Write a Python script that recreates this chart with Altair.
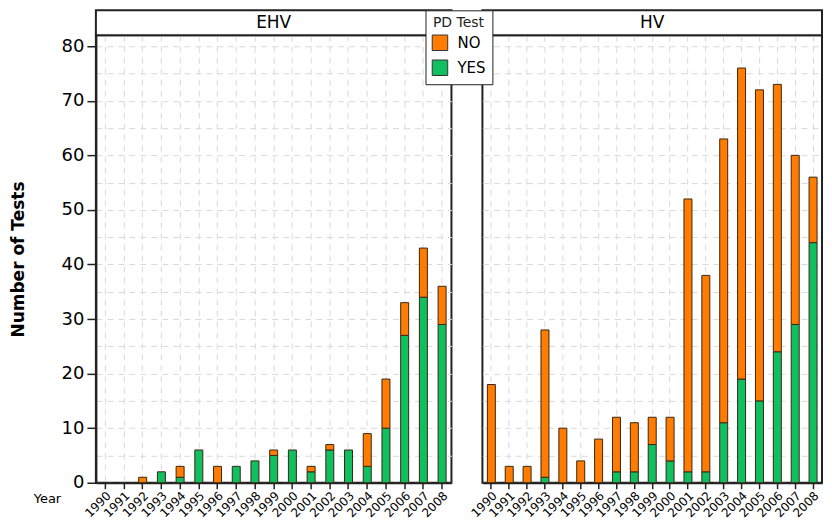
import altair as alt
import pandas as pd

years = [str(y) for y in range(1990, 2009)]

ehv_yes = [0, 0, 0, 2, 1, 6, 0, 3, 4, 5, 6, 2, 6, 6, 3, 10, 27, 34, 29]
ehv_no = [0, 0, 1, 0, 2, 0, 3, 0, 0, 1, 0, 1, 1, 0, 6, 9, 6, 9, 7]

hv_yes = [0, 0, 0, 1, 0, 0, 0, 2, 2, 7, 4, 2, 2, 11, 19, 15, 24, 29, 44]
hv_no = [18, 3, 3, 27, 10, 4, 8, 10, 9, 5, 8, 50, 36, 52, 57, 57, 49, 31, 12]

pd_levels = ["NO", "YES"]
pd_colors = ["#ff7c00", "#10c060"]

FONT = "DejaVu Sans"


def make_df(yes, no):
    rows = []
    for y, a, b in zip(years, yes, no):
        if a > 0:
            rows.append({"Year": y, "PD": "YES", "Count": a, "ord": 0})
        if b > 0:
            rows.append({"Year": y, "PD": "NO", "Count": b, "ord": 1})
    return pd.DataFrame(rows)


def panel(df, name, W, H, first):
    if first:
        yaxis = alt.Axis(
            values=list(range(0, 85, 5)),
            labelExpr="datum.value % 10 == 0 ? datum.label : ''",
            tickOpacity={"condition": {"test": "datum.value % 10 != 0", "value": 0}, "value": 1},
            title="Number of Tests",
            titleFontWeight="bold",
            titleFontSize=17,
            titleFont=FONT,
            titlePadding=34,
            labelFontSize=18,
            labelFont=FONT,
            labelColor="black",
            labelPadding=3,
            tickSize=9,
            tickColor="#222",
            tickWidth=1.5,
            domainColor="#222",
            domainWidth=2,
            grid=True,
            gridDash=[6, 5],
            gridColor="#d9d9d9",
        )
        xaxis = alt.Axis(
            title="Year",
            titleX=-49,
            titleY=16,
            titleAlign="center",
            titleBaseline="middle",
            titleFontWeight="normal",
            titleFontSize=13,
            titleFont=FONT,
        )
    else:
        yaxis = alt.Axis(
            values=list(range(0, 85, 5)),
            labels=False,
            ticks=False,
            domain=False,
            title=None,
            minExtent=0,
            maxExtent=0,
            grid=True,
            gridDash=[6, 5],
            gridColor="#d9d9d9",
        )
        xaxis = alt.Axis(title=None)

    bars = alt.Chart(df).mark_bar(size=8, stroke="#3a2614", strokeWidth=1).encode(
        x=alt.X(
            "Year:O",
            sort=years,
            scale=alt.Scale(domain=years, paddingInner=0, paddingOuter=0),
            axis=xaxis,
        ),
        y=alt.Y(
            "Count:Q",
            stack="zero",
            scale=alt.Scale(domain=[0, 82], nice=False),
            axis=yaxis,
        ),
        color=alt.Color(
            "PD:N",
            scale=alt.Scale(domain=pd_levels, range=pd_colors),
            legend=alt.Legend(
                title="PD Test",
                orient="none",
                legendX=330,
                legendY=-25,
                fillColor="white",
                strokeColor="#222",
                padding=6,
                titleAnchor="middle",
                titleFontSize=14,
                titleFontWeight="normal",
                titleFont=FONT,
                titleColor="#222",
                titlePadding=4,
                labelFontSize=15,
                labelFont=FONT,
                labelColor="black",
                labelOffset=9,
                symbolType="square",
                symbolSize=240,
                symbolStrokeColor="#333",
                symbolStrokeWidth=1,
                rowPadding=4,
            ),
        ),
        order=alt.Order("ord:Q"),
    )

    sdf = pd.DataFrame({"panel": [name]})
    strip = alt.Chart(sdf).mark_rect(fill="white", stroke="#222", strokeWidth=2).encode(
        x=alt.value(0), x2=alt.value(W), y=alt.value(-25), y2=alt.value(0)
    )
    label = alt.Chart(sdf).mark_text(fontSize=17, font=FONT, color="black").encode(
        text="panel:N", x=alt.value(W / 2), y=alt.value(-12)
    )
    return alt.layer(bars, strip, label).properties(width=W, height=H)


H = 448
left = panel(make_df(ehv_yes, ehv_no), "EHV", 356, H, True)
right = panel(make_df(hv_yes, hv_no), "HV", 340, H, False)

chart = (
    alt.hconcat(left, right, spacing=31, bounds="flush")
    .configure(padding=0)
    .configure_view(stroke="#222", strokeWidth=2)
    .configure_axisX(
        labelAngle=-45,
        labelFontSize=12,
        labelFont=FONT,
        labelColor="black",
        labelPadding=1,
        tickSize=6,
        tickColor="#222",
        tickWidth=1.5,
        domainColor="#222",
        domainWidth=2,
        grid=True,
        gridDash=[6, 5],
        gridColor="#d9d9d9",
        bandPosition=0.5,
    )
)

chart.save("out.html", embed_options={"renderer": "svg", "actions": False})
